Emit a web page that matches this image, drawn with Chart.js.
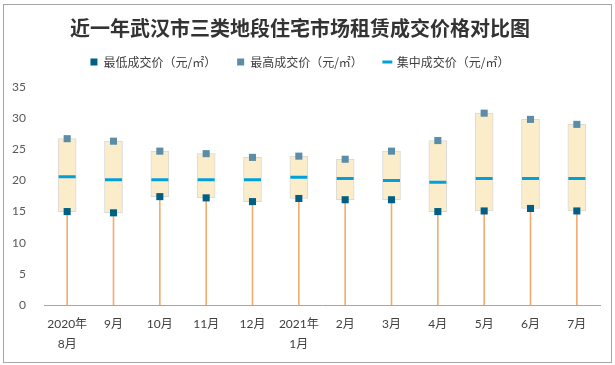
<!DOCTYPE html>
<html>
<head>
<meta charset="utf-8">
<script src="https://cdn.jsdelivr.net/npm/chart.js@4/dist/chart.umd.min.js"></script>
<style>
html,body{margin:0;padding:0;background:#fff;}
#wrap{position:relative;width:615px;height:365px;}
#frame{position:absolute;left:3px;top:4px;width:609px;height:359px;box-sizing:border-box;border:1px solid #a6a6a6;pointer-events:none;}
canvas{position:absolute;left:0;top:0;}
</style>
</head>
<body>
<div id="wrap"><canvas id="c" width="615" height="365"></canvas><div id="frame"></div></div>
<script>
const titleText = '近一年武汉市三类地段住宅市场租赁成交价格对比图';
const categories = [['2020年','8月'],'9月','10月','11月','12月',['2021年','1月'],'2月','3月','4月','5月','6月','7月'];
const seriesNames = ['最低成交价（元/㎡）','最高成交价（元/㎡）','集中成交价（元/㎡）'];
const lowPrice  = [15.0, 14.8, 17.4, 17.2, 16.6, 17.1, 16.9, 16.9, 15.0, 15.1, 15.5, 15.1];
const highPrice = [26.7, 26.3, 24.7, 24.3, 23.7, 23.9, 23.4, 24.7, 26.4, 30.8, 29.8, 29.0];
const midPrice  = [20.6, 20.1, 20.1, 20.1, 20.1, 20.5, 20.3, 20.0, 19.7, 20.3, 20.3, 20.3];
const yTicks = [0, 5, 10, 15, 20, 25, 30, 35];

const FONT = "Lato, 'Noto Sans CJK SC', sans-serif";

const fixLegend = {
  id: 'fixLegend',
  beforeLayout(chart) {
    const lg = chart.legend;
    if (lg && !lg.__patched) {
      const f = lg.fit;
      lg.fit = function () { f.call(this); this.height = 52; };
      lg.__patched = true;
    }
  }
};

new Chart(document.getElementById('c'), {
  type: 'bar',
  data: {
    labels: categories,
    datasets: [
      {
        type: 'line', label: seriesNames[0], data: lowPrice, showLine: false,
        pointStyle: 'rect', pointRadius: 5, pointBorderWidth: 0,
        pointBackgroundColor: '#005f85', pointBorderColor: '#005f85',
        backgroundColor: '#005f85', borderColor: '#005f85'
      },
      {
        type: 'line', label: seriesNames[1], data: highPrice, showLine: false,
        pointStyle: 'rect', pointRadius: 5, pointBorderWidth: 0,
        pointBackgroundColor: '#5b8ca8', pointBorderColor: '#5b8ca8',
        backgroundColor: '#5b8ca8', borderColor: '#5b8ca8'
      },
      {
        type: 'line', label: seriesNames[2], data: midPrice, showLine: false,
        pointStyle: 'line', pointRadius: 8.5, pointBorderWidth: 3,
        pointBackgroundColor: '#00a0dc', pointBorderColor: '#00a0dc',
        backgroundColor: '#00a0dc', borderColor: '#00a0dc'
      },
      {
        type: 'bar', label: 'box', data: lowPrice.map((v, i) => [v, highPrice[i]]),
        backgroundColor: '#fcedca', borderColor: '#d9d9d9', borderWidth: 1,
        borderSkipped: false, barThickness: 18, grouped: false
      },
      {
        type: 'bar', label: 'drop', data: lowPrice.map(v => [0, v]),
        backgroundColor: '#f3ad72', borderWidth: 0, barThickness: 1, grouped: false
      }
    ]
  },
  options: {
    responsive: false,
    animation: false,
    events: [],
    layout: { padding: { left: 0, right: 15, top: 0, bottom: 0 } },
    plugins: {
      title: {
        display: true, text: titleText, color: '#333333',
        font: { family: "'Noto Sans CJK SC', sans-serif", size: 20, weight: 'bold', lineHeight: 1.2 },
        padding: { top: 16, bottom: -5 }
      },
      legend: {
        display: true, position: 'top',
        labels: {
          usePointStyle: true, boxWidth: 7, boxHeight: 7, padding: 21,
          color: '#404040',
          font: { family: "'Noto Sans CJK SC', sans-serif", size: 12 },
          filter: item => item.datasetIndex < 3
        }
      },
      tooltip: { enabled: false }
    },
    scales: {
      x: {
        offset: true,
        grid: { display: false, drawTicks: false },
        border: { display: true, color: '#a6a6a6', width: 1 },
        ticks: {
          color: '#404040', padding: 9, maxRotation: 0, autoSkip: false,
          font: { family: FONT, size: 12, lineHeight: 1.65 }
        },
        afterFit(scale) { scale.height = 60; }
      },
      y: {
        min: 0, max: 35,
        grid: { display: false, drawTicks: false },
        border: { display: false },
        afterBuildTicks(scale) { scale.ticks = yTicks.map(v => ({ value: v })); },
        ticks: {
          color: '#595959', padding: 18,
          font: { family: FONT, size: 12 }
        },
        afterFit(scale) { scale.width = 44; }
      }
    }
  },
  plugins: [fixLegend]
});
</script>
</body>
</html>
